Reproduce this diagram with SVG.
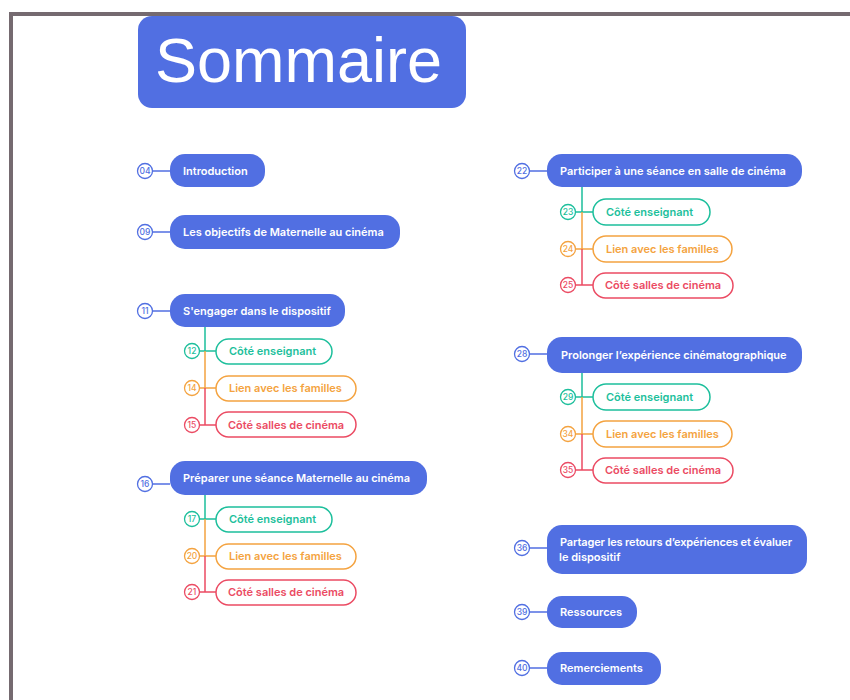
<svg xmlns="http://www.w3.org/2000/svg" width="850" height="700" viewBox="0 0 850 700">
<style>
.frame{fill:#756a70}
.main rect{fill:#516fe2}
.main text{fill:#ffffff;font-family:Inter,"Liberation Sans",sans-serif;font-weight:600;font-size:11px}
.num circle{fill:#ffffff;stroke-width:1.3}
.num text{font-family:Inter,"Liberation Sans",sans-serif;font-size:8.5px;font-weight:500;text-anchor:middle}
.b circle{stroke:#516fe2}.b text{fill:#516fe2}
.t circle{stroke:#1dbf9c}.t text{fill:#1dbf9c}
.o circle{stroke:#f4a340}.o text{fill:#f4a340}
.r circle{stroke:#eb4b63}.r text{fill:#eb4b63}
.pill rect{fill:#ffffff;stroke-width:1.5}
.pill text{font-family:Inter,"Liberation Sans",sans-serif;font-weight:600;font-size:11px}
.pt rect{stroke:#1dbf9c}.pt text{fill:#1dbf9c}
.po rect{stroke:#f4a340}.po text{fill:#f4a340}
.pr rect{stroke:#eb4b63}.pr text{fill:#eb4b63}
.lb{stroke:#516fe2;stroke-width:1.5;fill:none}
.lt{stroke:#1dbf9c;stroke-width:1.5;fill:none}
.lo{stroke:#f4a340;stroke-width:1.5;fill:none}
.lr{stroke:#eb4b63;stroke-width:1.5;fill:none}
</style>
<rect class="frame" x="9" y="12" width="841" height="4"/>
<rect class="frame" x="9" y="12" width="4" height="688"/>
<g id="title" class="main">
<rect x="138" y="16" width="328" height="92" rx="14"/>
<text x="155" y="82" style="font-family:'Liberation Sans',Arial,sans-serif;font-weight:400;font-size:63px">Sommaire</text>
</g>
<g id="connectors">
<path class="lb" d="M152.5 171H170M152.5 232H170M152.5 311H170M152.5 484H170M529.5 171H547M529.5 354H547M529.5 548H547M529.5 612H547M529.5 668H547"/>
<path class="lt" d="M205 327V351M199.5 351H216M205 495V519M199.5 519H216M582 187V212M575.5 212H593M582 373V397M575.5 397H593"/>
<path class="lo" d="M205 351V388M199.5 388H216M205 519V556M199.5 556H216M582 212V249M575.5 249H593M582 397V434M575.5 434H593"/>
<path class="lr" d="M205 388V425M199.5 425H216M205 556V592M199.5 592H216M582 249V285M575.5 285H593M582 434V470M575.5 470H593"/>
</g>
<g id="n04"><g class="num b"><circle cx="145" cy="171" r="7.5"/><text x="145" y="174">04</text></g><g class="main"><rect x="170" y="154" width="95" height="33" rx="15"/><text x="183" y="175">Introduction</text></g></g>
<g id="n09"><g class="num b"><circle cx="145" cy="232" r="7.5"/><text x="145" y="235">09</text></g><g class="main"><rect x="170" y="215" width="230" height="34" rx="15"/><text x="183" y="236">Les objectifs de Maternelle au cinéma</text></g></g>
<g id="n11"><g class="num b"><circle cx="145" cy="311" r="7.5"/><text x="145" y="314">11</text></g><g class="main"><rect x="170" y="294" width="175" height="33" rx="15"/><text x="183" y="315">S'engager dans le dispositif</text></g></g>
<g id="n12"><g class="num t"><circle cx="192" cy="351" r="7.5"/><text x="192" y="354">12</text></g><g class="pill pt"><rect x="216" y="339" width="116" height="25" rx="12.5"/><text x="229" y="355">Côté enseignant</text></g></g>
<g id="n14"><g class="num o"><circle cx="192" cy="388" r="7.5"/><text x="192" y="391">14</text></g><g class="pill po"><rect x="216" y="376" width="140" height="25" rx="12.5"/><text x="229" y="392">Lien avec les familles</text></g></g>
<g id="n15"><g class="num r"><circle cx="192" cy="425" r="7.5"/><text x="192" y="428">15</text></g><g class="pill pr"><rect x="216" y="412" width="140" height="25" rx="12.5"/><text x="228" y="429">Côté salles de cinéma</text></g></g>
<g id="n16"><g class="num b"><circle cx="145" cy="484" r="7.5"/><text x="145" y="487">16</text></g><g class="main"><rect x="170" y="461" width="257" height="34" rx="15"/><text x="183" y="482">Préparer une séance Maternelle au cinéma</text></g></g>
<g id="n17"><g class="num t"><circle cx="192" cy="519" r="7.5"/><text x="192" y="522">17</text></g><g class="pill pt"><rect x="216" y="507" width="116" height="25" rx="12.5"/><text x="229" y="523">Côté enseignant</text></g></g>
<g id="n20"><g class="num o"><circle cx="192" cy="556" r="7.5"/><text x="192" y="559">20</text></g><g class="pill po"><rect x="216" y="544" width="140" height="25" rx="12.5"/><text x="229" y="560">Lien avec les familles</text></g></g>
<g id="n21"><g class="num r"><circle cx="192" cy="592" r="7.5"/><text x="192" y="595">21</text></g><g class="pill pr"><rect x="216" y="580" width="140" height="25" rx="12.5"/><text x="228" y="596">Côté salles de cinéma</text></g></g>
<g id="n22"><g class="num b"><circle cx="522" cy="171" r="7.5"/><text x="522" y="174">22</text></g><g class="main"><rect x="547" y="154" width="255" height="33" rx="15"/><text x="560" y="175">Participer à une séance en salle de cinéma</text></g></g>
<g id="n23"><g class="num t"><circle cx="568" cy="212" r="7.5"/><text x="568" y="215">23</text></g><g class="pill pt"><rect x="593" y="199" width="117" height="26" rx="13"/><text x="606" y="216">Côté enseignant</text></g></g>
<g id="n24"><g class="num o"><circle cx="568" cy="249" r="7.5"/><text x="568" y="252">24</text></g><g class="pill po"><rect x="593" y="236" width="139" height="26" rx="13"/><text x="606" y="253">Lien avec les familles</text></g></g>
<g id="n25"><g class="num r"><circle cx="568" cy="285" r="7.5"/><text x="568" y="288">25</text></g><g class="pill pr"><rect x="593" y="273" width="140" height="25" rx="12.5"/><text x="605" y="289">Côté salles de cinéma</text></g></g>
<g id="n28"><g class="num b"><circle cx="522" cy="354" r="7.5"/><text x="522" y="357">28</text></g><g class="main"><rect x="547" y="337" width="255" height="36" rx="15"/><text x="561" y="359">Prolonger l’expérience cinématographique</text></g></g>
<g id="n29"><g class="num t"><circle cx="568" cy="397" r="7.5"/><text x="568" y="400">29</text></g><g class="pill pt"><rect x="593" y="384" width="117" height="26" rx="13"/><text x="606" y="401">Côté enseignant</text></g></g>
<g id="n34"><g class="num o"><circle cx="568" cy="434" r="7.5"/><text x="568" y="437">34</text></g><g class="pill po"><rect x="593" y="421" width="139" height="26" rx="13"/><text x="606" y="438">Lien avec les familles</text></g></g>
<g id="n35"><g class="num r"><circle cx="568" cy="470" r="7.5"/><text x="568" y="473">35</text></g><g class="pill pr"><rect x="593" y="458" width="140" height="25" rx="12.5"/><text x="605" y="474">Côté salles de cinéma</text></g></g>
<g id="n36"><g class="num b"><circle cx="522" cy="548" r="7.5"/><text x="522" y="551">36</text></g><g class="main"><rect x="547" y="525" width="260" height="49" rx="15"/><text x="560" y="546" textLength="232" lengthAdjust="spacing">Partager les retours d’expériences et évaluer</text><text x="559" y="561">le dispositif</text></g></g>
<g id="n39"><g class="num b"><circle cx="522" cy="612" r="7.5"/><text x="522" y="615">39</text></g><g class="main"><rect x="547" y="596" width="90" height="32" rx="15"/><text x="560" y="616">Ressources</text></g></g>
<g id="n40"><g class="num b"><circle cx="522" cy="668" r="7.5"/><text x="522" y="671">40</text></g><g class="main"><rect x="547" y="652" width="114" height="33" rx="15"/><text x="560" y="672">Remerciements</text></g></g>
</svg>
